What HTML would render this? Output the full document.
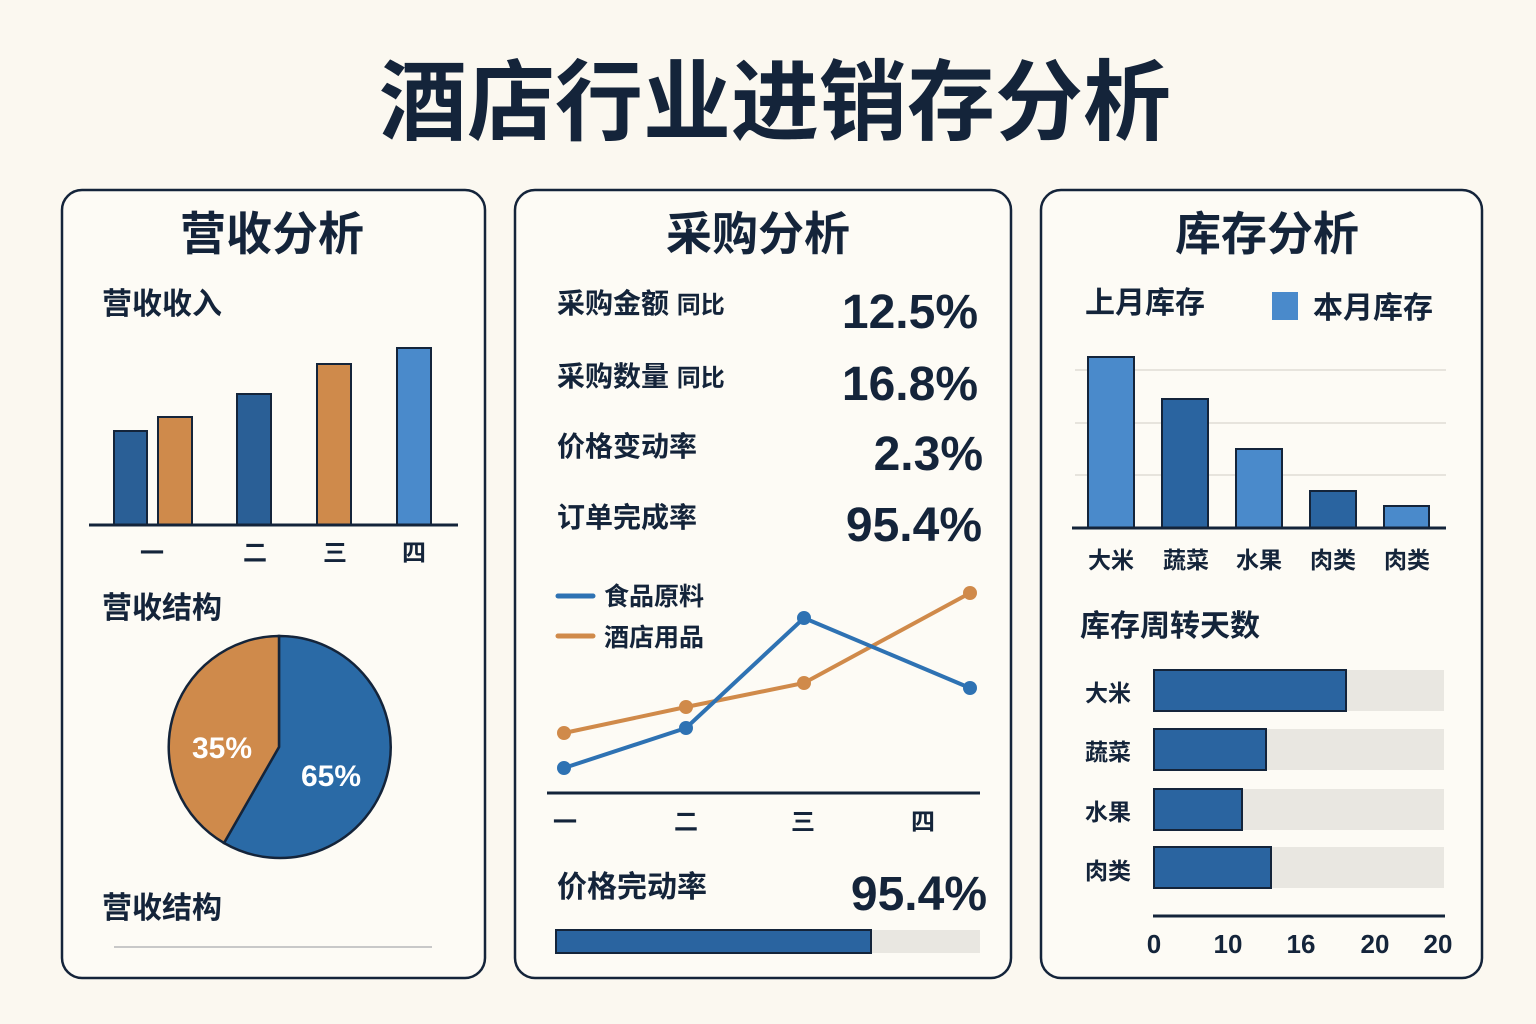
<!DOCTYPE html>
<html><head><meta charset="utf-8"><style>
html,body{margin:0;padding:0;background:#fbf8f0;}
svg{display:block}
text{font-family:"Liberation Sans","Noto Sans CJK SC",sans-serif;fill:#14243a;font-weight:bold}
</style></head><body>
<svg width="1536" height="1024" viewBox="0 0 1536 1024" xmlns="http://www.w3.org/2000/svg">
<rect width="1536" height="1024" fill="#fbf8f0"/>
<text x="775" y="133" font-size="88" text-anchor="middle">酒店行业进销存分析</text>
<g fill="#fdfbf5" stroke="#14243a" stroke-width="2.5">
<rect x="62" y="190" width="423" height="788" rx="20"/>
<rect x="515" y="190" width="496" height="788" rx="20"/>
<rect x="1041" y="190" width="441" height="788" rx="20"/>
</g>
<text x="272" y="250" font-size="46" text-anchor="middle">营收分析</text>
<text x="758" y="250" font-size="46" text-anchor="middle">采购分析</text>
<text x="1267" y="250" font-size="46" text-anchor="middle">库存分析</text>

<!-- Left -->
<text x="102" y="314" font-size="30">营收收入</text>
<g stroke="#14243a" stroke-width="2">
<rect x="114" y="431" width="33" height="94" fill="#2a5f96"/>
<rect x="158" y="417" width="34" height="108" fill="#cf8a4b"/>
<rect x="237" y="394" width="34" height="131" fill="#2a5f96"/>
<rect x="317" y="364" width="34" height="161" fill="#cf8a4b"/>
<rect x="397" y="348" width="34" height="177" fill="#4a8acb"/>
</g>
<line x1="89" y1="525" x2="458" y2="525" stroke="#14243a" stroke-width="3"/>
<g font-size="24" text-anchor="middle">
<text x="152" y="561">一</text><text x="255" y="561">二</text><text x="335" y="561">三</text><text x="414" y="561">四</text></g>
<text x="102" y="618" font-size="30">营收结构</text>
<path d="M279,747 L279,636 A111,111 0 1 1 224,843 Z" fill="#2a6aa6" stroke="#14243a" stroke-width="2.5"/>
<path d="M279,747 L224,843 A111,111 0 0 1 279,636 Z" fill="#cf8a4b" stroke="#14243a" stroke-width="2.5"/>
<text x="222" y="758" font-size="30" text-anchor="middle" style="fill:#fff">35%</text>
<text x="331" y="786" font-size="30" text-anchor="middle" style="fill:#fff">65%</text>
<text x="102" y="918" font-size="30">营收结构</text>
<line x1="114" y1="947" x2="432" y2="947" stroke="#c8c8c8" stroke-width="2"/>

<!-- Middle -->
<text x="557" y="313" font-size="28">采购金额 <tspan font-size="24">同比</tspan></text>
<text x="557" y="386" font-size="28">采购数量 <tspan font-size="24">同比</tspan></text>
<text x="557" y="456" font-size="28">价格变动率</text>
<text x="557" y="527" font-size="28">订单完成率</text>
<g font-size="48" text-anchor="end">
<text x="978" y="328">12.5%</text><text x="978" y="400">16.8%</text><text x="983" y="470">2.3%</text><text x="982" y="541">95.4%</text></g>
<line x1="558" y1="596" x2="593" y2="596" stroke="#2e72b3" stroke-width="5" stroke-linecap="round"/>
<line x1="558" y1="636" x2="593" y2="636" stroke="#d08a4a" stroke-width="5" stroke-linecap="round"/>
<text x="604" y="605" font-size="25">食品原料</text>
<text x="604" y="646" font-size="25">酒店用品</text>
<polyline points="564,733 686,707 804,683 970,593" fill="none" stroke="#d08a4a" stroke-width="4"/>
<polyline points="564,768 686,728 804,618 970,688" fill="none" stroke="#2e72b3" stroke-width="4"/>
<g fill="#d08a4a"><circle cx="564" cy="733" r="7"/><circle cx="686" cy="707" r="7"/><circle cx="804" cy="683" r="7"/><circle cx="970" cy="593" r="7"/></g>
<g fill="#2e72b3"><circle cx="564" cy="768" r="7"/><circle cx="686" cy="728" r="7"/><circle cx="804" cy="618" r="7"/><circle cx="970" cy="688" r="7"/></g>
<line x1="547" y1="793" x2="980" y2="793" stroke="#14243a" stroke-width="3"/>
<g font-size="24" text-anchor="middle">
<text x="565" y="830">一</text><text x="686" y="830">二</text><text x="803" y="830">三</text><text x="923" y="830">四</text></g>
<text x="557" y="897" font-size="30">价格完动率</text>
<text x="987" y="910" font-size="48" text-anchor="end">95.4%</text>
<rect x="556" y="930" width="424" height="23" fill="#e9e7e1"/>
<rect x="556" y="930" width="315" height="23" fill="#2a64a0" stroke="#14243a" stroke-width="2"/>

<!-- Right -->
<text x="1085" y="313" font-size="30">上月库存</text>
<rect x="1272" y="292" width="26" height="28" fill="#4a8acb"/>
<text x="1313" y="318" font-size="30">本月库存</text>
<g stroke="#e0ddd5" stroke-width="1.5"><line x1="1075" y1="370" x2="1446" y2="370"/><line x1="1075" y1="423" x2="1446" y2="423"/><line x1="1075" y1="475" x2="1446" y2="475"/></g>
<g stroke="#14243a" stroke-width="2">
<rect x="1088" y="357" width="46" height="171" fill="#4a8acb"/>
<rect x="1162" y="399" width="46" height="129" fill="#2a64a0"/>
<rect x="1236" y="449" width="46" height="79" fill="#4a8acb"/>
<rect x="1310" y="491" width="46" height="37" fill="#2a64a0"/>
<rect x="1384" y="506" width="45" height="22" fill="#4a8acb"/>
</g>
<line x1="1072" y1="528" x2="1446" y2="528" stroke="#14243a" stroke-width="3"/>
<g font-size="23" text-anchor="middle">
<text x="1111" y="568">大米</text><text x="1186" y="568">蔬菜</text><text x="1259" y="568">水果</text><text x="1333" y="568">肉类</text><text x="1407" y="568">肉类</text></g>
<text x="1080" y="636" font-size="30">库存周转天数</text>
<g fill="#e9e7e1"><rect x="1153" y="670" width="291" height="41"/><rect x="1153" y="729" width="291" height="41"/><rect x="1153" y="789" width="291" height="41"/><rect x="1153" y="847" width="291" height="41"/></g>
<g fill="#2a64a0" stroke="#14243a" stroke-width="2">
<rect x="1154" y="670" width="192" height="41"/><rect x="1154" y="729" width="112" height="41"/><rect x="1154" y="789" width="88" height="41"/><rect x="1154" y="847" width="117" height="41"/></g>
<g font-size="23" text-anchor="middle">
<text x="1108" y="701">大米</text><text x="1108" y="760">蔬菜</text><text x="1108" y="820">水果</text><text x="1108" y="879">肉类</text></g>
<line x1="1153" y1="916" x2="1445" y2="916" stroke="#14243a" stroke-width="3"/>
<g font-size="26" text-anchor="middle">
<text x="1154" y="953">0</text><text x="1228" y="953">10</text><text x="1301" y="953">16</text><text x="1375" y="953">20</text><text x="1438" y="953">20</text></g>
</svg>
</body></html>
